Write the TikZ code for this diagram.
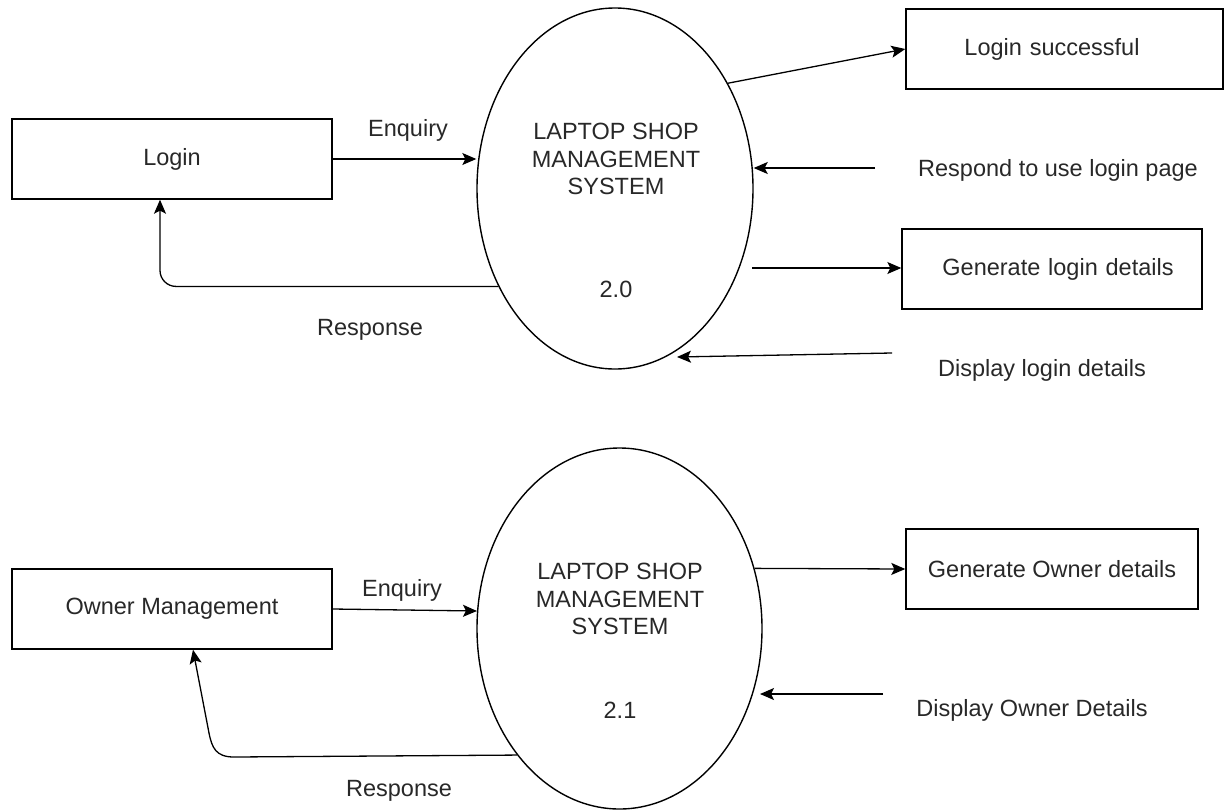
\documentclass[tikz,border=0pt]{standalone}
\usepackage{fontspec}
\setmainfont{Liberation Sans}
\usetikzlibrary{shapes.geometric,arrows.meta}
\definecolor{txt}{RGB}{40,40,40}
\begin{document}
\begin{tikzpicture}[x=1pt,y=-1pt,
  every node/.style={font=\fontsize{23.5}{27.5}\selectfont, text=txt},
  box/.style={draw, line width=1.4pt, inner sep=0pt, minimum height=80pt, align=center},
  proc/.style={draw, ellipse, line width=1.4pt, inner sep=0pt, minimum width=276pt, minimum height=361pt},
  arr/.style={line width=1.3pt, -{Stealth[length=14pt,width=12pt,inset=3pt]}},
  lbl/.style={inner sep=0pt, align=center}]
\useasboundingbox (0,0) rectangle (1225,811);

% ---------- upper diagram ----------
\node[proc] (sys1) at (615,188.5) {};
\node[lbl] (t1) at (616,159) {LAPTOP SHOP\\MANAGEMENT\\SYSTEM};
\node[lbl] (n1) at (616,289) {2.0};

\node[box, minimum width=320pt] (login) at (172,159) {Login};
\node[box, minimum width=317pt, text width=317pt] (ls) at (1064.5,49) {\hspace*{-25pt}Login successful};
\node[box, minimum width=300pt, text width=300pt] (gl) at (1052,269) {\hspace*{12pt}Generate login details};

\node[lbl] (enq1) at (408,130) {Enquiry};
\node[lbl] (resp1) at (370,330) {Response};
\node[lbl] (rl) at (1058,170) {Respond to use login page};
\node[lbl] (dl) at (1042,370) {Display login details};

\coordinate (rsa) at (875,168);
\coordinate (gla) at (752,268);
\coordinate (dla) at (892,353);
\coordinate (dlb) at (677,357);

\draw[arr] (login.east) -- (login.east -| sys1.west);
\draw[arr, rounded corners=16pt] (sys1.220.6) -| ([xshift=-12pt]login.south);
\draw[arr] (sys1.43) -- (ls.west);
\draw[arr] (rsa) -- (rsa -| sys1.east);
\draw[arr] (gla) -- (gla -| gl.west);
\draw[arr] (dla) -- (dlb);

% ---------- lower diagram ----------
\node[proc, minimum width=285pt] (sys2) at (619.5,628.5) {};
\node[lbl] (t2) at (620,599) {LAPTOP SHOP\\MANAGEMENT\\SYSTEM};
\node[lbl] (n2) at (620,710) {2.1};

\node[box, minimum width=320pt] (om) at (172,609) {Owner Management};
\node[box, minimum width=292pt] (go) at (1052,569) {Generate Owner details};

\node[lbl] (enq2) at (402,590) {Enquiry};
\node[lbl] (resp2) at (399,791) {Response};
\node[lbl] (dod) at (1032,710) {Display Owner Details};

\coordinate (doa) at (883,694);
\coordinate (dob) at (760,694);

\draw[arr] (om.east) -- (sys2.173.8);
\draw[arr] (sys2.231.7) -- (234,757) .. controls (216,757) and (212,748) .. (209,733) -- ([xshift=21pt]om.south);
\draw[arr] (sys2.24.7) -- (go.west);
\draw[arr] (doa) -- (dob);
\end{tikzpicture}
\end{document}
